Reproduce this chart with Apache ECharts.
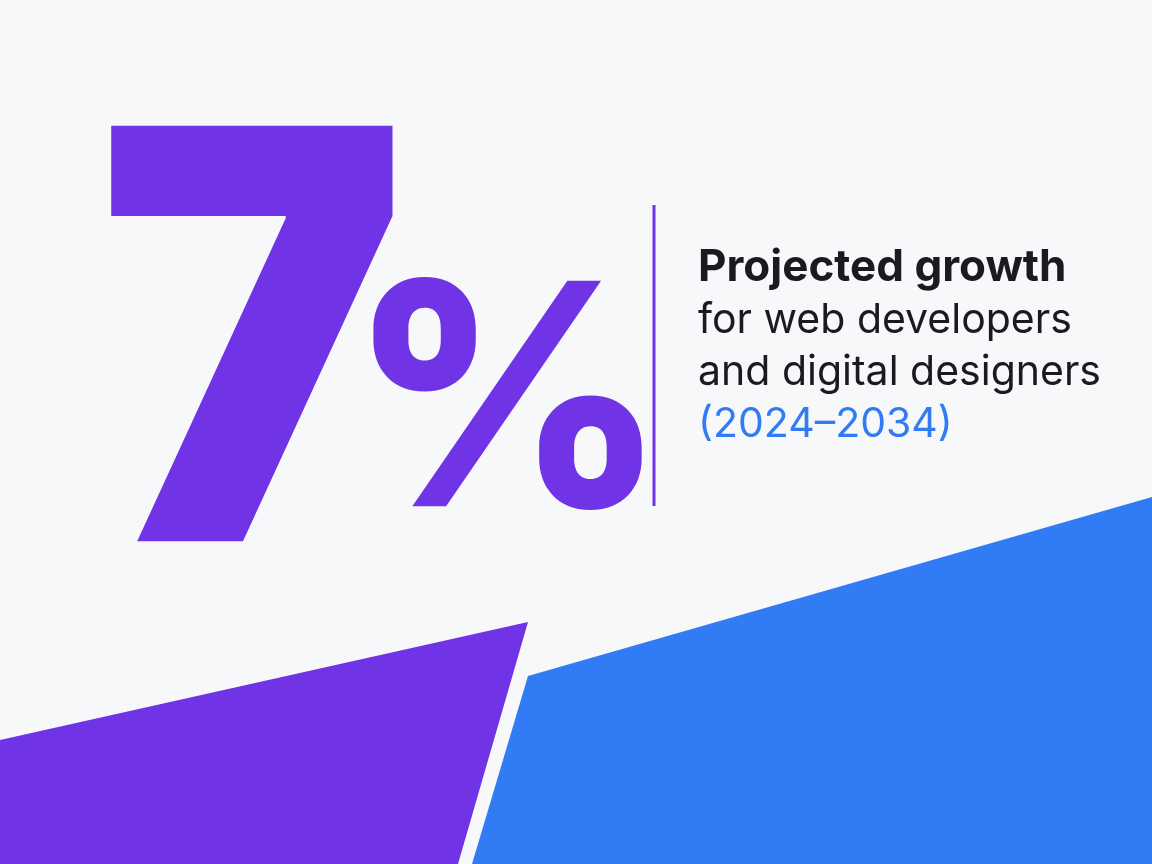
<!DOCTYPE html>
<html>
<head>
<meta charset="utf-8">
<script src="https://cdn.jsdelivr.net/npm/echarts@6/dist/echarts.min.js"></script>
<style>
  html, body { margin: 0; padding: 0; background: #f7f8fa; }
  #chart { width: 1152px; height: 864px; }
</style>
</head>
<body>
<div id="chart"></div>
<script>
// stat and caption
const statValue = 7;
const statUnit = "%";
const headline = "Projected growth";
const captionLines = ["for web developers", "and digital designers"];
const period = "(2024–2034)";

const PURPLE = "#7133e6",
  BLUE = "#317cf4",
  INK = "#1b1b1f";

const chart = echarts.init(document.getElementById("chart"));

chart.setOption({
  backgroundColor: "#f7f8fa",
  graphic: [
    // background shapes
    {
      type: "polygon",
      shape: { points: [[528, 676], [1152, 497], [1152, 864], [472, 864]] },
      style: { fill: BLUE },
    },
    {
      type: "polygon",
      shape: { points: [[0, 740], [528, 622], [458, 864], [0, 864]] },
      style: { fill: PURPLE },
    },
    // big number
    {
      type: "text",
      x: 97,
      y: 84,
      scaleX: 0.93,
      scaleY: 1.02,
      style: {
        text: String(statValue),
        fontFamily: "Inter",
        fontWeight: 900,
        fontSize: 560,
        fill: PURPLE,
        textVerticalAlign: "top",
      },
    },
    {
      type: "text",
      x: 348,
      y: 258,
      style: {
        text: statUnit,
        fontFamily: "Inter",
        fontWeight: 800,
        fontSize: 310,
        fill: PURPLE,
        textVerticalAlign: "top",
      },
    },
    // divider
    {
      type: "line",
      shape: { x1: 654, y1: 205, x2: 654, y2: 506 },
      style: { stroke: PURPLE, lineWidth: 3 },
    },
    // caption
    {
      type: "text",
      x: 698,
      y: 268,
      style: {
        text: headline,
        fontFamily: "Inter",
        fontWeight: 700,
        fontSize: 44,
        fill: INK,
        textVerticalAlign: "middle",
      },
    },
    ...captionLines.map((t, i) => ({
      type: "text",
      x: 698,
      y: 321 + i * 52,
      style: {
        text: t,
        fontFamily: "Inter",
        fontWeight: 400,
        fontSize: 41,
        fill: INK,
        textVerticalAlign: "middle",
      },
    })),
    {
      type: "text",
      x: 698,
      y: 425,
      style: {
        text: period,
        fontFamily: "Inter",
        fontWeight: 400,
        fontSize: 41,
        fill: BLUE,
        textVerticalAlign: "middle",
      },
    },
  ],
});
</script>
</body>
</html>
